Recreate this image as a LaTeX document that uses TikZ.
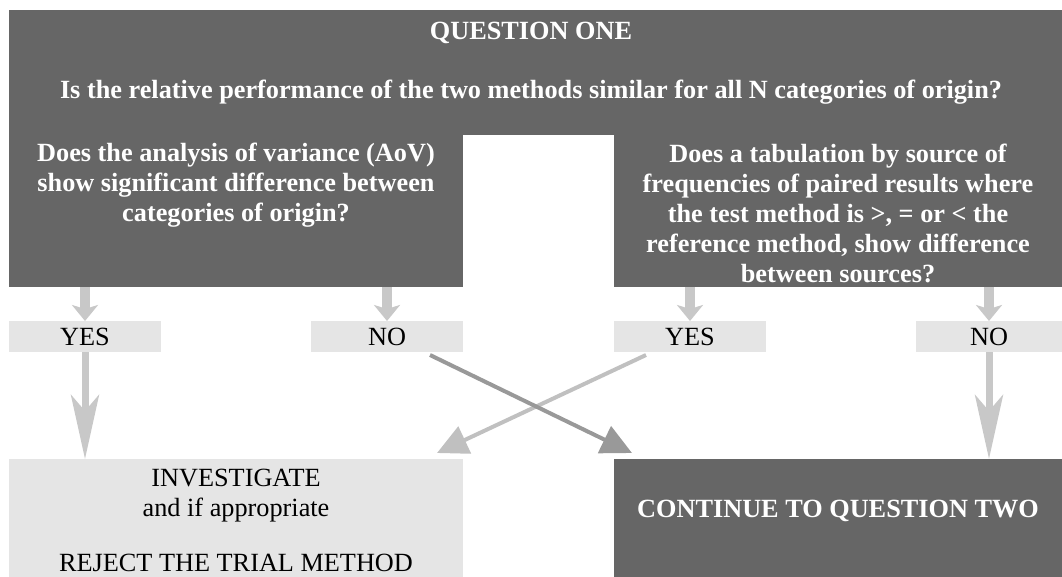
\documentclass[tikz,border=0pt]{standalone}
\usepackage{fontspec}
\setmainfont{Liberation Serif}
\usetikzlibrary{arrows.meta,calc}
\definecolor{darkg}{HTML}{666666}
\definecolor{lightg}{HTML}{E5E5E5}
\definecolor{arrowg}{HTML}{C8C8C8}
\definecolor{diagdark}{HTML}{999999}
\definecolor{diaglight}{HTML}{C0C0C0}
\def\u{0.75pt}
\tikzset{
  txt/.style={font=\fontsize{19.7}{22.5}\selectfont, align=center, inner sep=0pt},
  qtext/.style={txt, font=\fontsize{19.7}{22.5}\selectfont\bfseries, text=white},
  darkbox/.style={fill=darkg, draw=none, inner sep=0pt, outer sep=0pt},
  lightbox/.style={fill=lightg, draw=none, inner sep=0pt, outer sep=0pt},
  ansbox/.style={lightbox, minimum height=31*\u, txt},
  shortarr/.style={draw=arrowg, line width=10*\u, -{Stealth[length=12pt, width=19.5pt, inset=3pt]}},
  longarr/.style={draw=arrowg, line width=7*\u, -{Stealth[length=48pt, width=21pt, inset=12pt]}},
  diagarr/.style={line width=4*\u, -{Triangle[length=23pt, width=22pt]}}
}
\begin{document}
\begin{tikzpicture}[x=0.75pt,y=-0.75pt]
\useasboundingbox (0,0) rectangle (1062,577);
% top dark shape
\node[darkbox, minimum width=1053*\u, minimum height=125*\u] (banner) at (535.5,72.5) {};
\node[darkbox, minimum width=454*\u, minimum height=153*\u] (lq) at (236,210.5) {};
\node[darkbox, minimum width=448*\u, minimum height=153*\u] (rq) at (838,210.5) {};
\node[qtext] (t1) at (531,33) {QUESTION ONE};
\node[qtext] (t2) at (531,92) {Is the relative performance of the two methods similar for all N categories of origin?};
\node[qtext] (t3) at (236,185) {Does the analysis of variance (AoV)\\show significant difference between\\categories of origin?};
\node[qtext] (t4) at (838,213) {Does a tabulation by source of\\frequencies of paired results where\\the test method is >, = or < the\\reference method, show difference\\between sources?};
% answers
\node[ansbox, minimum width=152*\u] (y1) at (85,336.5) {YES};
\node[ansbox, minimum width=152*\u] (n1) at (387,336.5) {NO};
\node[ansbox, minimum width=152*\u] (y2) at (690,336.5) {YES};
\node[ansbox, minimum width=146*\u] (n2) at (989,336.5) {NO};
% bottom boxes
\node[lightbox, minimum width=454*\u, minimum height=118*\u] (inv) at (236,518) {};
\node[darkbox, minimum width=448*\u, minimum height=118*\u] (cont) at (838,518) {};
\node[txt] (invt) at (236,496) {INVESTIGATE\\and if appropriate};
\node[txt] (rejt) at (236,563) {REJECT THE TRIAL METHOD};
\node[qtext] (contt) at (838,511) {CONTINUE TO QUESTION TWO};
% short arrows
\draw[shortarr] (lq.south -| y1.north) -- (y1.north);
\draw[shortarr] (lq.south -| n1.north) -- (n1.north);
\draw[shortarr] (rq.south -| y2.north) -- (y2.north);
\draw[shortarr] (rq.south -| n2.north) -- (n2.north);
% long arrows
\draw[longarr] (y1.south) -- (y1.south |- inv.north);
\draw[longarr] (n2.south) -- (n2.south |- cont.north);
% diagonal arrows
\draw[diagarr, draw=diaglight, fill=diaglight] ($(y2.south west)+(32,3)$) -- ($(inv.north east)+(-26,-6)$);
\draw[diagarr, draw=diagdark, fill=diagdark] ($(n1.south east)+(-33,3)$) -- ($(cont.north west)+(18,-6)$);
\end{tikzpicture}
\end{document}
